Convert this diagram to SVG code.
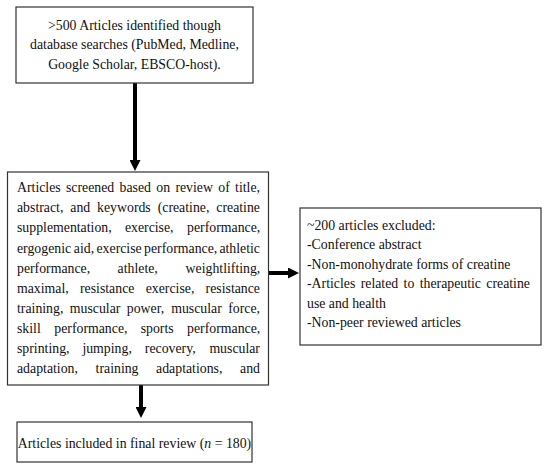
<svg xmlns="http://www.w3.org/2000/svg" width="550" height="469" viewBox="0 0 550 469">
<style>
.box{fill:#fff;stroke:#333;stroke-width:1.2}
.t{font-family:"Liberation Serif","Times New Roman",serif;font-size:13.8px;fill:#111}
.c{text-anchor:middle}
.conn{stroke:#000;stroke-width:4;fill:none}
</style>
<defs>
<marker id="ah" viewBox="0 0 10 10" refX="0" refY="5" markerWidth="11" markerHeight="11" markerUnits="userSpaceOnUse" orient="auto">
<path d="M0,0 L10,5 L0,10 z" fill="#000"/>
</marker>
</defs>
<rect width="550" height="469" fill="#fff"/>
<g id="connectors">
<line class="conn" x1="135" y1="83" x2="135" y2="160" marker-end="url(#ah)"/>
<line class="conn" x1="268" y1="273" x2="288" y2="273" marker-end="url(#ah)"/>
<line class="conn" x1="141" y1="385" x2="141" y2="407" marker-end="url(#ah)"/>
</g>
<g id="identified">
<rect class="box" x="16" y="7" width="237" height="76"/>
<text class="t c" x="134.5" y="29.5">&gt;500 Articles identified though</text>
<text class="t c" x="134.5" y="49">database searches (PubMed, Medline,</text>
<text class="t c" x="134.5" y="68.5">Google Scholar, EBSCO-host).</text>
</g>
<g id="screened">
<rect class="box" x="7.5" y="172" width="261" height="213"/>
<text class="t" y="192.3"><tspan x="17">Articles</tspan><tspan x="66">screened</tspan><tspan x="119.6">based</tspan><tspan x="156.3">on</tspan><tspan x="175.4">review</tspan><tspan x="218.3">of</tspan><tspan x="235.1">title,</tspan></text>
<text class="t" y="212.4"><tspan x="17">abstract,</tspan><tspan x="70.3">and</tspan><tspan x="97.1">keywords</tspan><tspan x="157.7">(creatine,</tspan><tspan x="216.3">creatine</tspan></text>
<text class="t" y="232.4"><tspan x="17">supplementation,</tspan><tspan x="124.9">exercise,</tspan><tspan x="187.1">performance,</tspan></text>
<text class="t" y="252.5"><tspan x="17">ergogenic</tspan><tspan x="73.8">aid,</tspan><tspan x="96.5">exercise</tspan><tspan x="144.1">performance,</tspan><tspan x="219.4">athletic</tspan></text>
<text class="t" y="272.5"><tspan x="17">performance,</tspan><tspan x="117.6">athlete,</tspan><tspan x="185.6">weightlifting,</tspan></text>
<text class="t" y="292.6"><tspan x="17">maximal,</tspan><tspan x="80">resistance</tspan><tspan x="145.7">exercise,</tspan><tspan x="205.6">resistance</tspan></text>
<text class="t" y="312.6"><tspan x="17">training,</tspan><tspan x="69.8">muscular</tspan><tspan x="126.8">power,</tspan><tspan x="171.2">muscular</tspan><tspan x="228.2">force,</tspan></text>
<text class="t" y="332.7"><tspan x="17">skill</tspan><tspan x="54.3">performance,</tspan><tspan x="140.7">sports</tspan><tspan x="187.1">performance,</tspan></text>
<text class="t" y="352.7"><tspan x="17">sprinting,</tspan><tspan x="82.4">jumping,</tspan><tspan x="144.8">recovery,</tspan><tspan x="209.4">muscular</tspan></text>
<text class="t" y="372.8"><tspan x="17">adaptation,</tspan><tspan x="95.6">training</tspan><tspan x="156.1">adaptations,</tspan><tspan x="240.1">and</tspan></text>
</g>
<g id="excluded">
<rect class="box" x="300" y="208" width="241" height="137"/>
<text class="t" x="307" y="229.5">~200 articles excluded:</text>
<text class="t" x="307" y="249">-Conference abstract</text>
<text class="t" x="307" y="268.5">-Non-monohydrate forms of creatine</text>
<text class="t" y="288"><tspan x="307">-Articles</tspan><tspan x="360.7">related</tspan><tspan x="403.6">to</tspan><tspan x="419.7">therapeutic</tspan><tspan x="486.3">creatine</tspan></text>
<text class="t" x="307" y="307.5">use and health</text>
<text class="t" x="307" y="327">-Non-peer reviewed articles</text>
</g>
<g id="included">
<rect class="box" x="17" y="422" width="235" height="40"/>
<text class="t c" x="134.5" y="448">Articles included in final review (<tspan font-style="italic">n</tspan> = 180)</text>
</g>
</svg>
